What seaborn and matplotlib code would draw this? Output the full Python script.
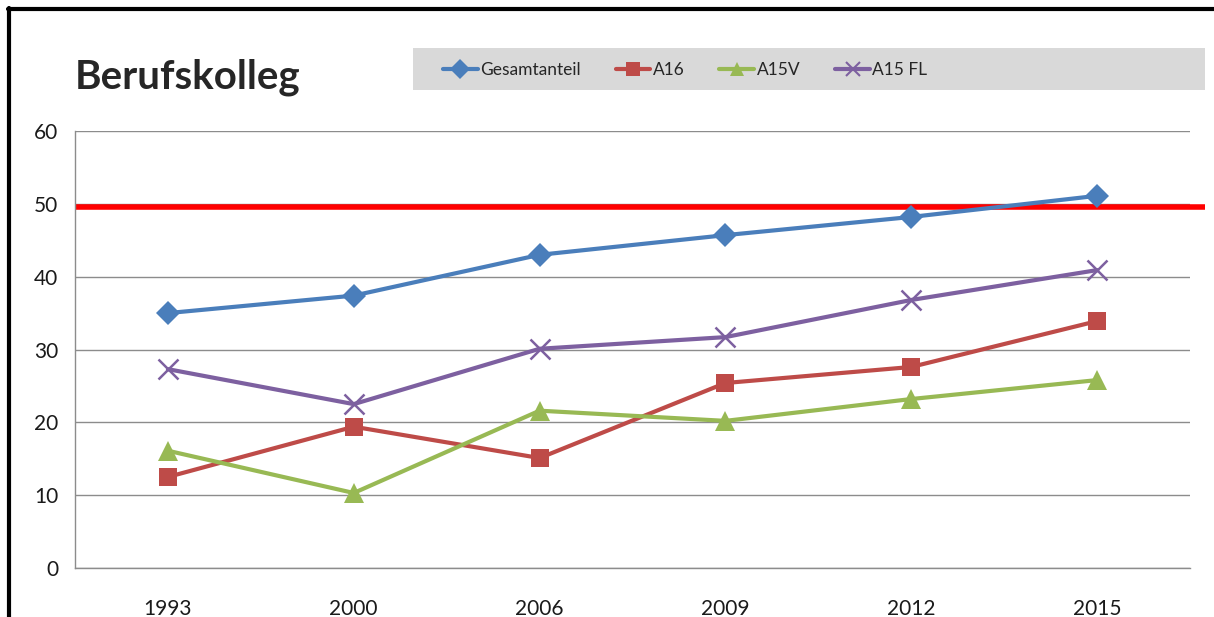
import pandas as pd
import seaborn as sns
import matplotlib.pyplot as plt
from matplotlib.lines import Line2D
from matplotlib.patches import Rectangle

years = ['1993', '2000', '2006', '2009', '2012', '2015']
gesamtanteil = [35.0, 37.4, 43.0, 45.7, 48.2, 51.1]
a16 = [12.5, 19.4, 15.1, 25.4, 27.6, 33.9]
a15v = [16.1, 10.3, 21.6, 20.2, 23.2, 25.8]
a15fl = [27.3, 22.5, 30.1, 31.7, 36.8, 40.9]
series_names = ['Gesamtanteil', 'A16', 'A15V', 'A15 FL']
threshold = 49.6

colors = ['#4a7ebb', '#be4b48', '#98b954', '#7d60a0']
markers = ['D', 's', '^', 'x']
msizes = [12, 13, 14, 14]

sns.set_style('white')
plt.rcParams['font.family'] = ['Lato', 'DejaVu Sans']

fig = plt.figure(figsize=(12.14, 6.17), dpi=100)
ax = fig.add_axes([75 / 1214, 1 - 568 / 617, 1115 / 1214, 437 / 617])

for name, vals, c, m, ms in zip(series_names, [gesamtanteil, a16, a15v, a15fl],
                                colors, markers, msizes):
    d = pd.DataFrame({'Jahr': years, 'Anteil': vals})
    sns.lineplot(data=d, x='Jahr', y='Anteil', color=c, marker=m, linewidth=3,
                 markersize=ms, markeredgecolor=c,
                 markeredgewidth=(1.8 if m == 'x' else 0), ax=ax, sort=False)

ax.set_xlim(-0.5, 5.5)
ax.set_ylim(0, 60)
ax.set_yticks(range(0, 61, 10))
ax.set_xlabel('')
ax.set_ylabel('')
ax.grid(axis='y', color='#8c8c8c', linewidth=1)
ax.grid(axis='x', visible=False)
ax.set_axisbelow(True)
for s in ['top', 'right']:
    ax.spines[s].set_visible(False)
for s in ['left', 'bottom']:
    ax.spines[s].set_color('#8c8c8c')
    ax.spines[s].set_linewidth(1)

ax.set_xticks([i - 0.5 for i in range(7)], minor=True)
ax.tick_params(axis='x', which='major', length=0, pad=22, labelsize=15, colors='#1a1a1a')
ax.tick_params(axis='x', which='minor', length=8, width=1, color='#8c8c8c', direction='out')
ax.tick_params(axis='y', length=6, width=1, color='#8c8c8c', pad=6, labelsize=15, labelcolor='#1a1a1a')

# red reference line, runs a bit past the plot area
ax.plot([-0.5, 5.58], [threshold, threshold], color='#ff0000', linewidth=4,
        solid_capstyle='butt', clip_on=False, zorder=1.5)

fig.text(75 / 1214, 1 - 88 / 617, 'Berufskolleg', fontsize=29, fontweight='bold',
         va='baseline', ha='left')

# grey legend band
fig.add_artist(Rectangle((413 / 1214, 1 - 90 / 617), 792 / 1214, 42 / 617,
                         transform=fig.transFigure, facecolor='#d9d9d9',
                         edgecolor='none', zorder=0))
handles = [Line2D([], [], color=c, marker=m, linewidth=3, markersize=10,
                  markeredgewidth=(1.5 if m == 'x' else 0))
           for c, m in zip(colors, markers)]
fig.legend(handles, series_names, loc='center left',
           bbox_to_anchor=(443 / 1214, 1 - 70 / 617), ncol=4, frameon=False,
           fontsize=12.5, handlelength=2.0, handletextpad=0.15, columnspacing=2.0,
           borderaxespad=0, borderpad=0)

# outer frame (top and left edges visible)
fig.add_artist(Line2D([8 / 1214, 1], [1 - 9 / 617, 1 - 9 / 617],
                      transform=fig.transFigure, color='black', linewidth=3))
fig.add_artist(Line2D([9 / 1214, 9 / 1214], [0, 1 - 8 / 617],
                      transform=fig.transFigure, color='black', linewidth=3))

fig.savefig('out.png', dpi=100)
